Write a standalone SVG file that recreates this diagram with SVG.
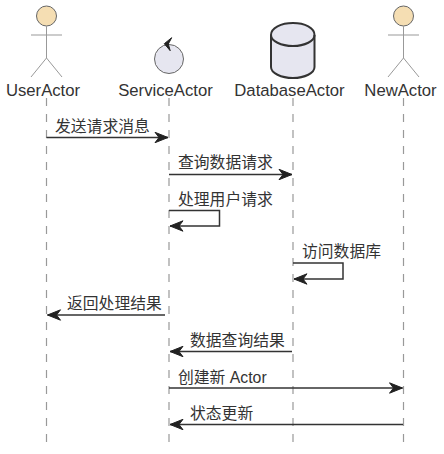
<svg xmlns="http://www.w3.org/2000/svg" width="444" height="454" viewBox="0 0 444 454">
<defs>
<marker id="arrow" markerUnits="userSpaceOnUse" markerWidth="16" markerHeight="14" refX="14" refY="7" orient="auto">
<path d="M1,1.800 L14,7 L1,12.200 L5,7 Z" fill="#222222" stroke="#222222" stroke-width="1"/>
</marker>
</defs>
<style>
text{font-family:"Liberation Sans","Noto Sans CJK SC",sans-serif;fill:#333333;font-size:15.8px}
.t{text-anchor:middle;font-size:16.7px}
.life{stroke:#999999;stroke-width:1.2;stroke-dasharray:8 8;fill:none}
.msg{stroke:#333333;stroke-width:1.5;fill:none;marker-end:url(#arrow)}
.head{fill:#F5DEB3;stroke:#666666;stroke-width:1}
.limb{stroke:#999999;stroke-width:1;fill:none}
.body{fill:#E6E6F0;stroke:#333333}
</style>
<g id="lifelines">
<line class="life" x1="46.500" y1="98" x2="46.500" y2="444"/>
<line class="life" x1="169" y1="98" x2="169" y2="444"/>
<line class="life" x1="293" y1="98" x2="293" y2="444"/>
<line class="life" x1="403.500" y1="98" x2="403.500" y2="444"/>
</g>
<g id="UserActor">
<circle class="head" cx="46.500" cy="16" r="10"/>
<path class="limb" d="M46.500,26 V58 M31,35 H62 M46.500,58 L31,77 M46.500,58 L62,77"/>
<text class="t" x="43" y="96">UserActor</text>
</g>
<g id="ServiceActor">
<circle cx="169" cy="59" r="14.500" fill="#E6E6F0" stroke="#666666" stroke-width="1"/>
<path d="M171.700,37.700 L164.300,43.700 L170.200,50.700 L168.300,44 Z" fill="#222222" stroke="#222222"/>
<text class="t" x="165.500" y="96">ServiceActor</text>
</g>
<g id="DatabaseActor">
<path class="body" stroke-width="2" d="M271,35 V67 C271,73 281,78 293,78 C305,78 314.500,73 314.500,67 V35 C314.500,28 305,23 293,23 C281,23 271,28 271,35 Z"/>
<path d="M271,35 C271,41 281,46 293,46 C305,46 314.500,41 314.500,35" fill="none" stroke="#333333" stroke-width="2"/>
<text class="t" x="289.500" y="96">DatabaseActor</text>
</g>
<g id="NewActor">
<circle class="head" cx="403.500" cy="16" r="10"/>
<path class="limb" d="M403.500,26 V58 M388,35 H419 M403.500,58 L388,77 M403.500,58 L419,77"/>
<text class="t" x="400.500" y="96">NewActor</text>
</g>
<g id="connectors">
<line class="msg" x1="46.500" y1="137.500" x2="168" y2="137.500"/>
<line class="msg" x1="169" y1="174.500" x2="292" y2="174.500"/>
<path class="msg" d="M169,210.500 H219.500 V226 H170"/>
<path class="msg" d="M293,263 H343 V279 H294"/>
<line class="msg" x1="165" y1="315" x2="47.500" y2="315"/>
<line class="msg" x1="292" y1="351.500" x2="170" y2="351.500"/>
<line class="msg" x1="169" y1="388" x2="402.500" y2="388"/>
<line class="msg" x1="403" y1="424.500" x2="170" y2="424.500"/>
</g>
<g id="labels">
<text x="55" y="132">发送请求消息</text>
<text x="178" y="168">查询数据请求</text>
<text x="178" y="205">处理用户请求</text>
<text x="302" y="257">访问数据库</text>
<text x="67" y="309">返回处理结果</text>
<text x="190" y="346">数据查询结果</text>
<text x="178" y="383">创建新 Actor</text>
<text x="190" y="419">状态更新</text>
</g>
</svg>
